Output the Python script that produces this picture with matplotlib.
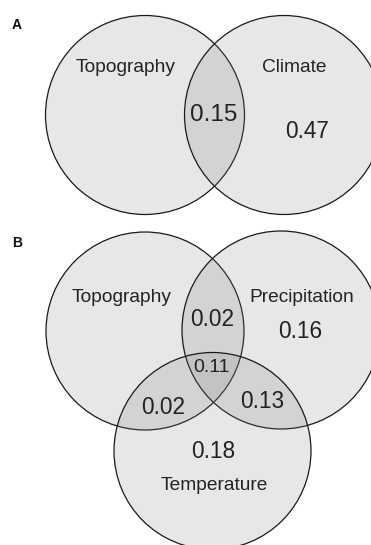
import matplotlib
matplotlib.use("Agg")
import matplotlib.pyplot as plt
from matplotlib.patches import Circle

plt.rcParams['font.family'] = ['Liberation Sans', 'DejaVu Sans']

# Data
panel_a_sets = ["Topography", "Climate"]
panel_a_values = ["0.15", "0.47"]          # shared, climate only
panel_b_sets = ["Topography", "Precipitation", "Temperature"]
panel_b_values = ["0.02", "0.16", "0.11", "0.02", "0.13", "0.18"]  # T&P, P, all, T&Temp, P&Temp, Temp
panel_labels = ["A", "B"]

W, H = 371, 545
fig = plt.figure(figsize=(W / 100, H / 100), dpi=100)
ax = fig.add_axes([0, 0, 1, 1])
ax.set_xlim(0, W)
ax.set_ylim(H, 0)
ax.set_aspect('equal')
ax.axis('off')

fill = dict(facecolor='#808080', alpha=0.19, edgecolor='none')
edge = dict(facecolor='none', edgecolor='#1a1a1a', linewidth=0.9)

def circ(x, y, r):
    ax.add_patch(Circle((x, y), r, **fill))
    ax.add_patch(Circle((x, y), r, **edge))

tc = '#222222'
lab = 13.8
num = 17.5

# Panel A
circ(145, 115, 99.5)
circ(284, 115, 99.5)
ax.text(126, 67, panel_a_sets[0], fontsize=lab, ha='center', va='center', color=tc)
ax.text(294, 67, panel_a_sets[1], fontsize=lab, ha='center', va='center', color=tc)
ax.text(214, 115, panel_a_values[0], fontsize=num, ha='center', va='center', color=tc)
ax.text(307, 132, panel_a_values[1], fontsize=16.3, ha='center', va='center', color=tc)

# Panel B
circ(145, 331, 99)
circ(281, 330, 99)
circ(212.5, 451, 98.5)
ax.text(122, 297, panel_b_sets[0], fontsize=lab, ha='center', va='center', color=tc)
ax.text(302, 298, panel_b_sets[1], fontsize=lab, ha='center', va='center', color=tc)
ax.text(214, 485, panel_b_sets[2], fontsize=lab, ha='center', va='center', color=tc)
bnum = 16.3
ax.text(212, 320, panel_b_values[0], fontsize=bnum, ha='center', va='center', color=tc)
ax.text(300, 332, panel_b_values[1], fontsize=bnum, ha='center', va='center', color=tc)
ax.text(212, 367, panel_b_values[2], fontsize=14, ha='center', va='center', color=tc)
ax.text(163, 408, panel_b_values[3], fontsize=bnum, ha='center', va='center', color=tc)
ax.text(262, 402, panel_b_values[4], fontsize=bnum, ha='center', va='center', color=tc)
ax.text(213, 452, panel_b_values[5], fontsize=bnum, ha='center', va='center', color=tc)

ax.text(17, 25, panel_labels[0], fontsize=10, fontweight='bold', ha='center', va='center', color='#111')
ax.text(17, 243, panel_labels[1], fontsize=10, fontweight='bold', ha='center', va='center', color='#111')

fig.savefig("out.png", dpi=100)
